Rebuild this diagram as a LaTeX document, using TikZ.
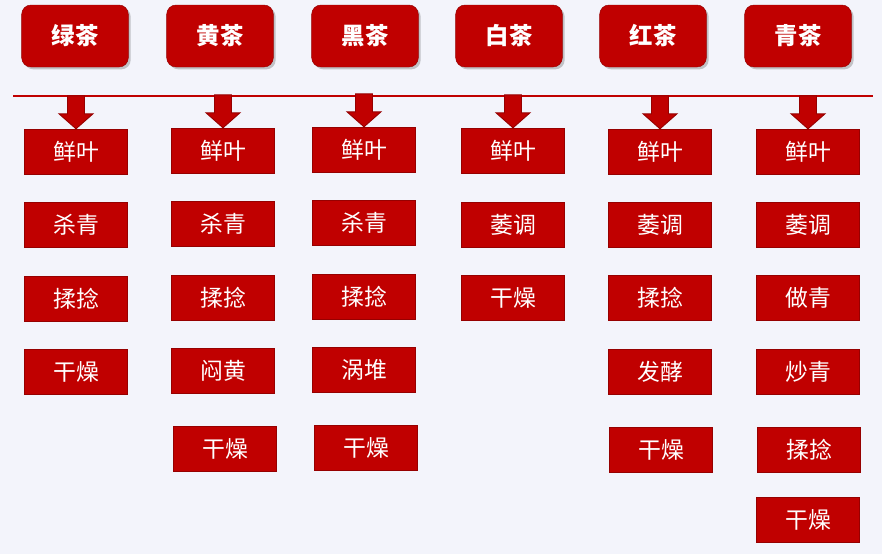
\documentclass[tikz,border=0pt]{standalone}
\usepackage{fontspec}
\newfontfamily\cjk{Noto Sans CJK SC}
\usepackage{tikz}
\usetikzlibrary{calc, shadows}
\definecolor{tred}{RGB}{192,0,0}
\definecolor{tdark}{RGB}{150,0,0}
\definecolor{bgblue}{RGB}{243,244,251}

\begin{document}
\begin{tikzpicture}[
    x=0.03cm, y=-0.03cm,
    teabox/.style={draw=tdark, fill=tred, rounded corners=8pt, minimum width=3.2cm, minimum height=1.86cm,
        text=white, font=\cjk\bfseries\fontsize{20}{24}\selectfont,
        drop shadow={shadow xshift=2pt, shadow yshift=-2pt, opacity=0.35, fill=black!60}},
    stepbox/.style={draw=tdark, line width=1.2pt, fill=tred, minimum width=3.09cm, minimum height=1.35cm,
        text=white, font=\cjk\fontsize{19.5}{23}\selectfont},
    bigarrow/.style={draw=tdark, fill=tred, line width=0.8pt},
]
    % Background
    \fill[bgblue] (0,0) rectangle (882,554);
    \useasboundingbox (0,0) rectangle (882,554);

    % Tea types
    \node[teabox] (lv) at (75,36) {绿茶};
    \node[teabox] (huang) at (220,36) {黄茶};
    \node[teabox] (hei) at (365,36) {黑茶};
    \node[teabox] (bai) at (509,36) {白茶};
    \node[teabox] (hong) at (653,36) {红茶};
    \node[teabox] (qing) at (798,36) {青茶};

    % Divider
    \draw[tred, line width=1.6pt] (13,96) -- (873,96);

    % Green tea
    \node[stepbox] (lv1) at (76,152) {鲜叶};
    \node[stepbox] (lv2) at (76,225) {杀青};
    \node[stepbox] (lv3) at (76,299) {揉捻};
    \node[stepbox] (lv4) at (76,372) {干燥};

    % Yellow tea
    \node[stepbox] (huang1) at (223,151) {鲜叶};
    \node[stepbox] (huang2) at (223,224) {杀青};
    \node[stepbox] (huang3) at (223,298) {揉捻};
    \node[stepbox] (huang4) at (223,371) {闷黄};
    \node[stepbox] (huang5) at (225,449) {干燥};

    % Dark tea
    \node[stepbox] (hei1) at (364,150) {鲜叶};
    \node[stepbox] (hei2) at (364,223) {杀青};
    \node[stepbox] (hei3) at (364,297) {揉捻};
    \node[stepbox] (hei4) at (364,370) {涡堆};
    \node[stepbox] (hei5) at (366,448) {干燥};

    % White tea
    \node[stepbox] (bai1) at (513,151) {鲜叶};
    \node[stepbox] (bai2) at (513,225) {萎调};
    \node[stepbox] (bai3) at (513,298) {干燥};

    % Black tea
    \node[stepbox] (hong1) at (660,152) {鲜叶};
    \node[stepbox] (hong2) at (660,225) {萎调};
    \node[stepbox] (hong3) at (660,298) {揉捻};
    \node[stepbox] (hong4) at (660,372) {发酵};
    \node[stepbox] (hong5) at (661,450) {干燥};

    % Oolong tea
    \node[stepbox] (qing1) at (808,152) {鲜叶};
    \node[stepbox] (qing2) at (808,225) {萎调};
    \node[stepbox] (qing3) at (808,298) {做青};
    \node[stepbox] (qing4) at (808,372) {炒青};
    \node[stepbox] (qing5) at (809,450) {揉捻};
    \node[stepbox] (qing6) at (808,520) {干燥};

    % Arrows
    \foreach \t in {lv, huang, hei, bai, hong, qing}
        \draw[bigarrow] ($(\t1.north)+(-8.5,-33)$) -- ($(\t1.north)+(8.5,-33)$)
            -- ($(\t1.north)+(8.5,-15)$) -- ($(\t1.north)+(17,-15)$) -- (\t1.north)
            -- ($(\t1.north)+(-17,-15)$) -- ($(\t1.north)+(-8.5,-15)$) -- cycle;
\end{tikzpicture}
\end{document}
